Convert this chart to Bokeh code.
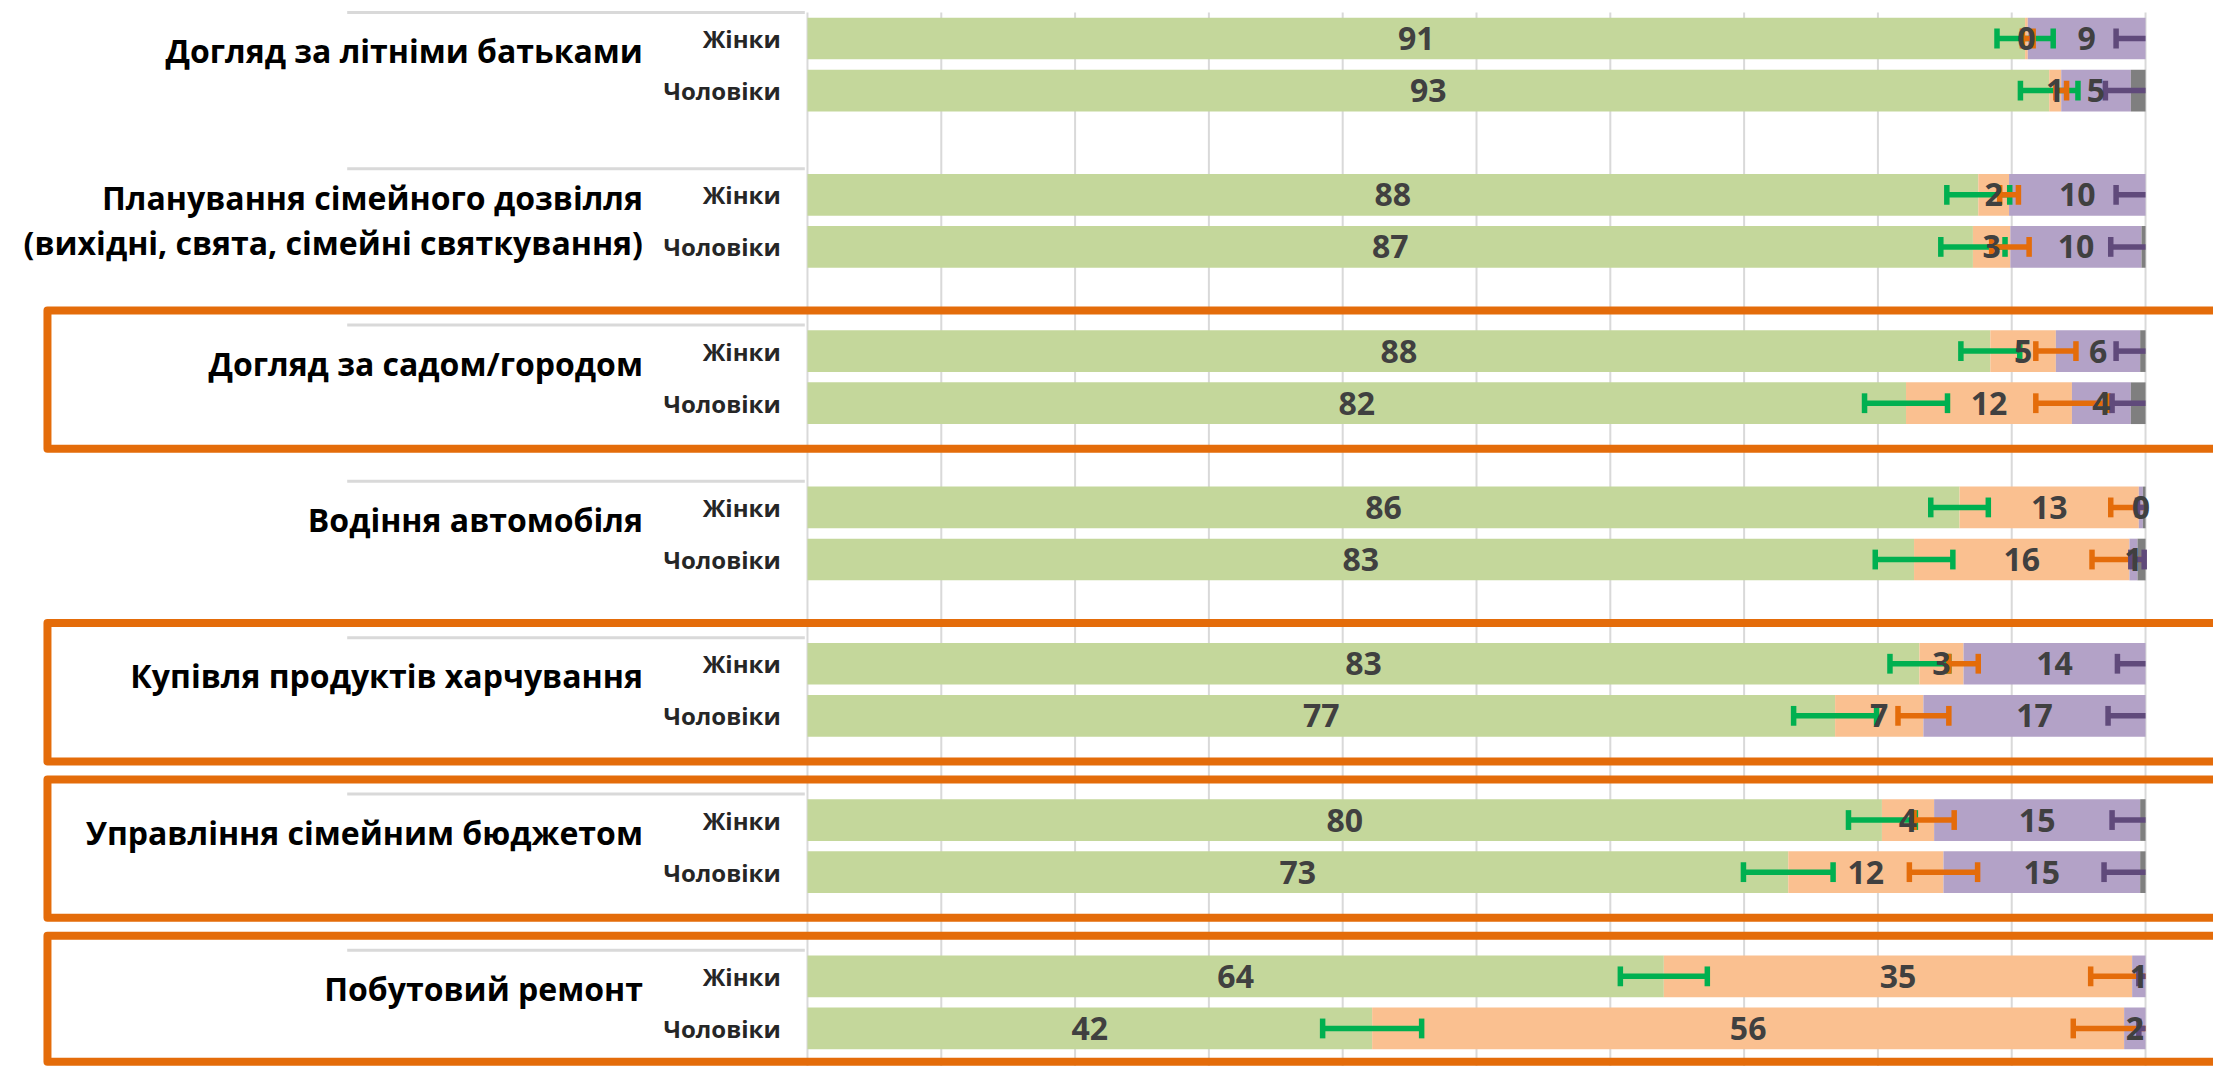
import numpy as np
from bokeh.plotting import figure
from bokeh.models import Range1d, ColumnDataSource
from bokeh.core.properties import value
from bokeh.embed import file_html
from bokeh.resources import INLINE

# ---------------- data ----------------
categories = [
    "Догляд за літніми батьками",
    "Планування сімейного дозвілля\n(вихідні, свята, сімейні святкування)",
    "Догляд за садом/городом",
    "Водіння автомобіля",
    "Купівля продуктів харчування",
    "Управління сімейним бюджетом",
    "Побутовий ремонт",
]
highlighted = [False, False, True, False, True, True, True]
sexes = ["Жінки", "Чоловіки"]

# rows: for each category -> Жінки, Чоловіки
green = [91.0, 92.8, 87.5, 87.1, 88.4, 82.1, 86.1, 82.7, 83.1, 76.8, 80.3, 73.3, 64.0, 42.2]
orange = [0.2, 0.9, 2.3, 2.8, 4.9, 12.4, 13.4, 16.1, 3.3, 6.6, 3.9, 11.6, 35.0, 56.2]
purple = [8.8, 5.2, 10.2, 9.8, 6.3, 4.4, 0.3, 0.6, 13.6, 16.6, 15.4, 14.7, 1.0, 1.6]
gray = [0.0, 1.1, 0.0, 0.3, 0.4, 1.1, 0.2, 0.6, 0.0, 0.0, 0.4, 0.4, 0.0, 0.0]

green_ci = [2.1, 2.15, 2.35, 2.4, 2.2, 3.1, 2.15, 2.9, 2.2, 3.1, 2.5, 3.35, 3.25, 3.7]
orange_ci = [0.4, 0.4, 0.7, 1.4, 1.5, 2.7, 2.1, 2.8, 1.1, 1.9, 1.5, 2.55, 3.1, 3.8]
purple_ci = [2.2, 1.9, 2.2, 2.3, 1.8, 1.4, 0.4, 0.5, 2.1, 2.8, 2.1, 2.7, 0.5, 0.5]

ticks = [0, 10, 20, 30, 40, 50, 60, 70, 80, 90, 100]

# ---------------- styles ----------------
BAR_COLORS = ["#C4D79B", "#FAC090", "#B3A2C7", "#7F7F7F"]
ERR_COLORS = ["#00B050", "#E46C0A", "#604A7B"]
BOX_COLOR = "#E46C0A"
FONT = value("Open Sans")

Y_TOP, Y_BOTTOM = -0.729, 19.73

n_groups = len(categories)
rows_y = [3 * g + j for g in range(n_groups) for j in range(len(sexes))]
row_sex = [sexes[j] for g in range(n_groups) for j in range(len(sexes))]

p = figure(
    width=2213, height=1066,
    x_range=Range1d(-60.31, 105.08),
    y_range=Range1d(Y_BOTTOM, Y_TOP),
    output_backend="svg", toolbar_location=None,
    x_axis_location=None, y_axis_location=None,
    min_border=0, outline_line_color=None,
    background_fill_color="white", border_fill_color="white",
)
p.xgrid.visible = False
p.ygrid.visible = False

# vertical gridlines (value axis 0..100)
p.segment(x0=ticks, x1=ticks, y0=[-0.5] * len(ticks), y1=[Y_BOTTOM] * len(ticks),
          line_color="#D9D9D9", line_width=2)

# stacked bars
src = ColumnDataSource(dict(y=rows_y, green=green, orange=orange, purple=purple, gray=gray))
p.hbar_stack(["green", "orange", "purple", "gray"], y="y", height=0.8,
             fill_color=BAR_COLORS, line_color=None, source=src)

vals = np.array([green, orange, purple, gray])
ends = np.cumsum(vals, axis=0)
centers = ends - vals / 2.0
cis = [green_ci, orange_ci, purple_ci]

# error bars (clipped at 100 like the chart's axis)
for s in range(3):
    xs0, xs1, ys = [], [], []
    cx, cy0, cy1 = [], [], []
    for i, y in enumerate(rows_y):
        c = ends[s][i]
        lo = c - cis[s][i]
        hi = c + cis[s][i]
        hic = min(hi, 100.0)
        xs0.append(lo); xs1.append(hic); ys.append(y)
        cx.append(lo); cy0.append(y - 0.19); cy1.append(y + 0.19)
        if hi <= 100.0:
            cx.append(hi); cy0.append(y - 0.19); cy1.append(y + 0.19)
    p.segment(x0=xs0, x1=xs1, y0=ys, y1=ys, line_color=ERR_COLORS[s], line_width=5.5)
    p.segment(x0=cx, x1=cx, y0=cy0, y1=cy1, line_color=ERR_COLORS[s], line_width=5.5)

# value labels
lx, ly, lt = [], [], []
for s in range(3):
    for i, y in enumerate(rows_y):
        lx.append(centers[s][i]); ly.append(y); lt.append(f"{vals[s][i]:.0f}")
p.text(x=lx, y=ly, text=lt, text_font=FONT, text_font_style="bold",
       text_font_size="32px", text_color="#404040",
       text_align="center", text_baseline="middle")

# separators in the category label area
sep_y = [3 * g - 0.5 for g in range(n_groups)]
p.segment(x0=[-34.4] * n_groups, x1=[-0.2] * n_groups, y0=sep_y, y1=sep_y,
          line_color="#D9D9D9", line_width=3)

# sex labels
p.text(x=[-2.0] * len(rows_y), y=rows_y, text=row_sex, text_font=FONT,
       text_font_style="bold", text_font_size="24px", text_color="#262626",
       text_align="right", text_baseline="middle")

# category labels
cat_y = [3 * g + 0.23 + 0.25 * (c.count("\n")) for g, c in enumerate(categories)]
p.text(x=[-12.3] * n_groups, y=cat_y, text=categories, text_font=FONT,
       text_font_style="bold", text_font_size="32px", text_color="#000000",
       text_align="right", text_baseline="middle", text_line_height=1.06)

# highlight boxes (kept inside the visible area)
hg = [g for g in range(n_groups) if highlighted[g]]
p.quad(left=[-56.8] * len(hg), right=[115] * len(hg),
       top=[3 * g - 0.78 for g in hg],
       bottom=[min(3 * g + 1.875, Y_BOTTOM - 0.09) for g in hg],
       fill_color=None, line_color=BOX_COLOR, line_width=8, line_join="round")

open("out.html", "w").write(file_html(p, INLINE))
